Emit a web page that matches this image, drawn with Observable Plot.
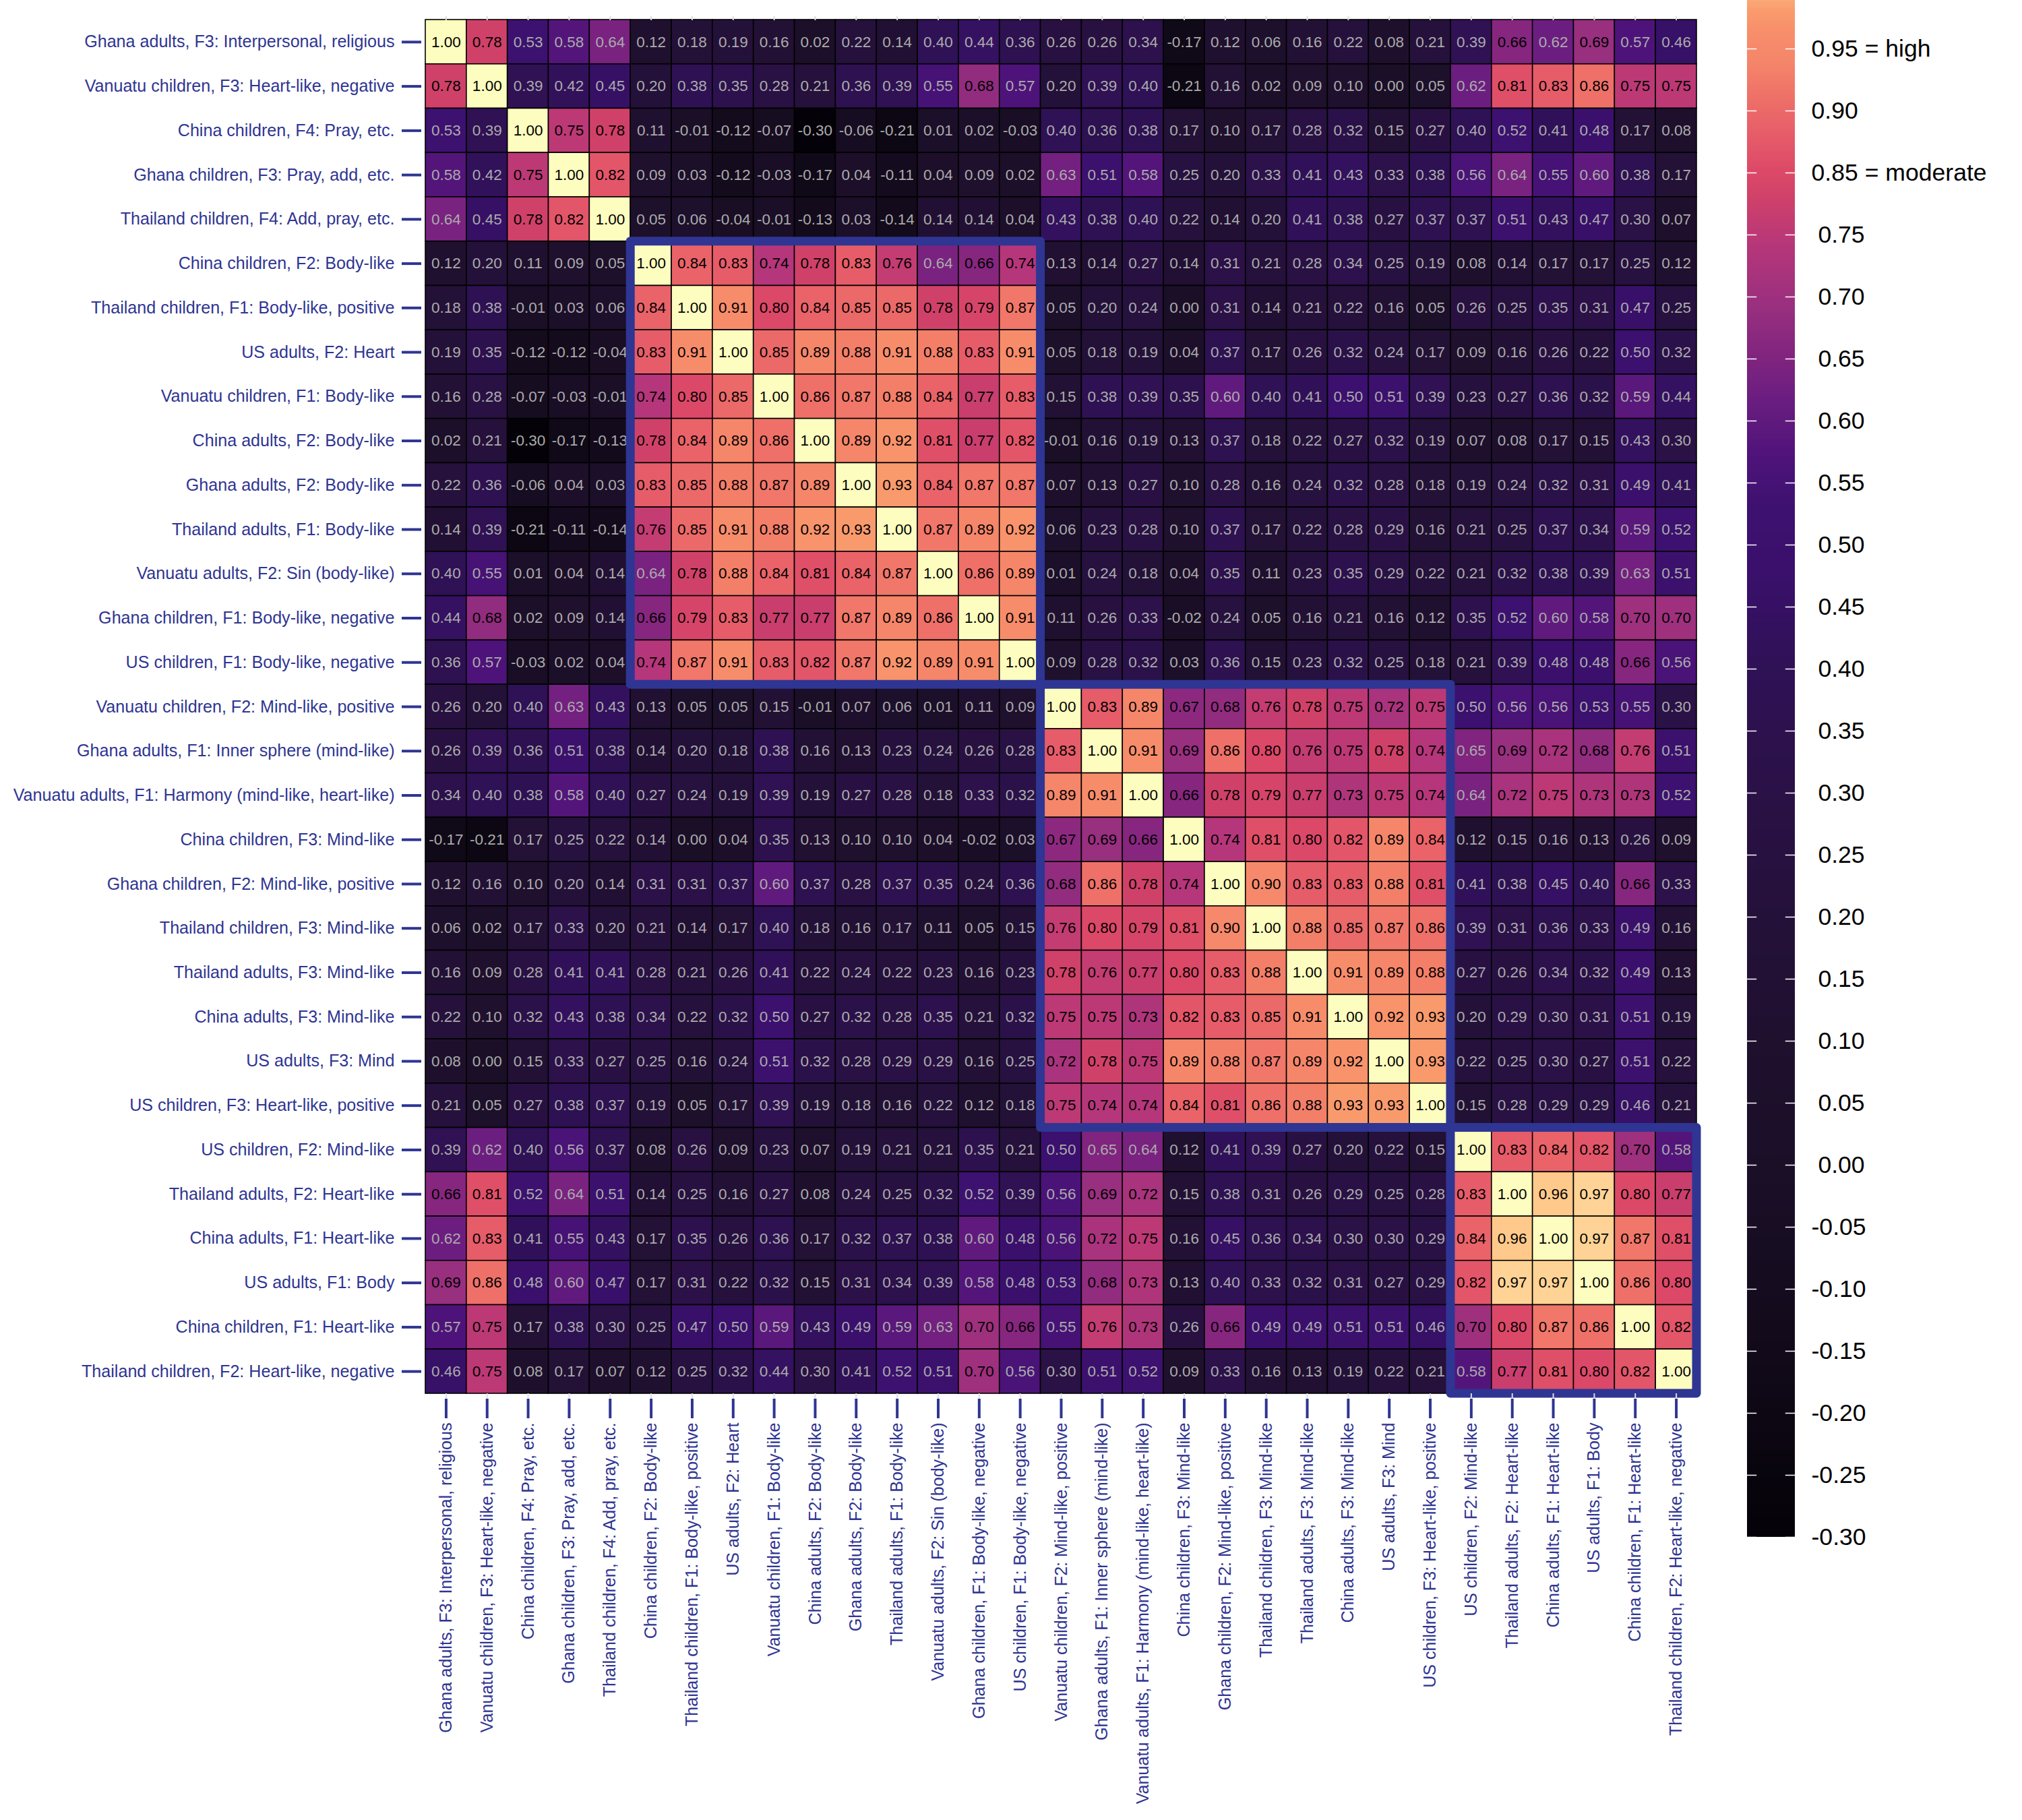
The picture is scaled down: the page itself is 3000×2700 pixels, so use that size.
<!DOCTYPE html>
<html><head><meta charset="utf-8">
<script src="https://cdn.jsdelivr.net/npm/d3@7"></script>
<script src="https://cdn.jsdelivr.net/npm/@observablehq/plot@0.6"></script>
<style>
html,body{margin:0;padding:0;background:#fff;overflow:hidden;}
#wrap{position:relative;width:3000px;height:2700px;overflow:hidden;background:#fff;}
#main{position:absolute;left:0;top:0;}
#legend{position:absolute;left:2560px;top:0;}
</style></head><body><div id="wrap"><div id="main"></div><div id="legend"></div></div>
<script>
const labels = [
  "Ghana adults, F3: Interpersonal, religious",
  "Vanuatu children, F3: Heart-like, negative",
  "China children, F4: Pray, etc.",
  "Ghana children, F3: Pray, add, etc.",
  "Thailand children, F4: Add, pray, etc.",
  "China children, F2: Body-like",
  "Thailand children, F1: Body-like, positive",
  "US adults, F2: Heart",
  "Vanuatu children, F1: Body-like",
  "China adults, F2: Body-like",
  "Ghana adults, F2: Body-like",
  "Thailand adults, F1: Body-like",
  "Vanuatu adults, F2: Sin (body-like)",
  "Ghana children, F1: Body-like, negative",
  "US children, F1: Body-like, negative",
  "Vanuatu children, F2: Mind-like, positive",
  "Ghana adults, F1: Inner sphere (mind-like)",
  "Vanuatu adults, F1: Harmony (mind-like, heart-like)",
  "China children, F3: Mind-like",
  "Ghana children, F2: Mind-like, positive",
  "Thailand children, F3: Mind-like",
  "Thailand adults, F3: Mind-like",
  "China adults, F3: Mind-like",
  "US adults, F3: Mind",
  "US children, F3: Heart-like, positive",
  "US children, F2: Mind-like",
  "Thailand adults, F2: Heart-like",
  "China adults, F1: Heart-like",
  "US adults, F1: Body",
  "China children, F1: Heart-like",
  "Thailand children, F2: Heart-like, negative"
];

const corrRows = [
  [1.00,0.78,0.53,0.58,0.64,0.12,0.18,0.19,0.16,0.02,0.22,0.14,0.40,0.44,0.36,0.26,0.26,0.34,-0.17,0.12,0.06,0.16,0.22,0.08,0.21,0.39,0.66,0.62,0.69,0.57,0.46],
  [0.78,1.00,0.39,0.42,0.45,0.20,0.38,0.35,0.28,0.21,0.36,0.39,0.55,0.68,0.57,0.20,0.39,0.40,-0.21,0.16,0.02,0.09,0.10,0.00,0.05,0.62,0.81,0.83,0.86,0.75,0.75],
  [0.53,0.39,1.00,0.75,0.78,0.11,-0.01,-0.12,-0.07,-0.30,-0.06,-0.21,0.01,0.02,-0.03,0.40,0.36,0.38,0.17,0.10,0.17,0.28,0.32,0.15,0.27,0.40,0.52,0.41,0.48,0.17,0.08],
  [0.58,0.42,0.75,1.00,0.82,0.09,0.03,-0.12,-0.03,-0.17,0.04,-0.11,0.04,0.09,0.02,0.63,0.51,0.58,0.25,0.20,0.33,0.41,0.43,0.33,0.38,0.56,0.64,0.55,0.60,0.38,0.17],
  [0.64,0.45,0.78,0.82,1.00,0.05,0.06,-0.04,-0.01,-0.13,0.03,-0.14,0.14,0.14,0.04,0.43,0.38,0.40,0.22,0.14,0.20,0.41,0.38,0.27,0.37,0.37,0.51,0.43,0.47,0.30,0.07],
  [0.12,0.20,0.11,0.09,0.05,1.00,0.84,0.83,0.74,0.78,0.83,0.76,0.64,0.66,0.74,0.13,0.14,0.27,0.14,0.31,0.21,0.28,0.34,0.25,0.19,0.08,0.14,0.17,0.17,0.25,0.12],
  [0.18,0.38,-0.01,0.03,0.06,0.84,1.00,0.91,0.80,0.84,0.85,0.85,0.78,0.79,0.87,0.05,0.20,0.24,0.00,0.31,0.14,0.21,0.22,0.16,0.05,0.26,0.25,0.35,0.31,0.47,0.25],
  [0.19,0.35,-0.12,-0.12,-0.04,0.83,0.91,1.00,0.85,0.89,0.88,0.91,0.88,0.83,0.91,0.05,0.18,0.19,0.04,0.37,0.17,0.26,0.32,0.24,0.17,0.09,0.16,0.26,0.22,0.50,0.32],
  [0.16,0.28,-0.07,-0.03,-0.01,0.74,0.80,0.85,1.00,0.86,0.87,0.88,0.84,0.77,0.83,0.15,0.38,0.39,0.35,0.60,0.40,0.41,0.50,0.51,0.39,0.23,0.27,0.36,0.32,0.59,0.44],
  [0.02,0.21,-0.30,-0.17,-0.13,0.78,0.84,0.89,0.86,1.00,0.89,0.92,0.81,0.77,0.82,-0.01,0.16,0.19,0.13,0.37,0.18,0.22,0.27,0.32,0.19,0.07,0.08,0.17,0.15,0.43,0.30],
  [0.22,0.36,-0.06,0.04,0.03,0.83,0.85,0.88,0.87,0.89,1.00,0.93,0.84,0.87,0.87,0.07,0.13,0.27,0.10,0.28,0.16,0.24,0.32,0.28,0.18,0.19,0.24,0.32,0.31,0.49,0.41],
  [0.14,0.39,-0.21,-0.11,-0.14,0.76,0.85,0.91,0.88,0.92,0.93,1.00,0.87,0.89,0.92,0.06,0.23,0.28,0.10,0.37,0.17,0.22,0.28,0.29,0.16,0.21,0.25,0.37,0.34,0.59,0.52],
  [0.40,0.55,0.01,0.04,0.14,0.64,0.78,0.88,0.84,0.81,0.84,0.87,1.00,0.86,0.89,0.01,0.24,0.18,0.04,0.35,0.11,0.23,0.35,0.29,0.22,0.21,0.32,0.38,0.39,0.63,0.51],
  [0.44,0.68,0.02,0.09,0.14,0.66,0.79,0.83,0.77,0.77,0.87,0.89,0.86,1.00,0.91,0.11,0.26,0.33,-0.02,0.24,0.05,0.16,0.21,0.16,0.12,0.35,0.52,0.60,0.58,0.70,0.70],
  [0.36,0.57,-0.03,0.02,0.04,0.74,0.87,0.91,0.83,0.82,0.87,0.92,0.89,0.91,1.00,0.09,0.28,0.32,0.03,0.36,0.15,0.23,0.32,0.25,0.18,0.21,0.39,0.48,0.48,0.66,0.56],
  [0.26,0.20,0.40,0.63,0.43,0.13,0.05,0.05,0.15,-0.01,0.07,0.06,0.01,0.11,0.09,1.00,0.83,0.89,0.67,0.68,0.76,0.78,0.75,0.72,0.75,0.50,0.56,0.56,0.53,0.55,0.30],
  [0.26,0.39,0.36,0.51,0.38,0.14,0.20,0.18,0.38,0.16,0.13,0.23,0.24,0.26,0.28,0.83,1.00,0.91,0.69,0.86,0.80,0.76,0.75,0.78,0.74,0.65,0.69,0.72,0.68,0.76,0.51],
  [0.34,0.40,0.38,0.58,0.40,0.27,0.24,0.19,0.39,0.19,0.27,0.28,0.18,0.33,0.32,0.89,0.91,1.00,0.66,0.78,0.79,0.77,0.73,0.75,0.74,0.64,0.72,0.75,0.73,0.73,0.52],
  [-0.17,-0.21,0.17,0.25,0.22,0.14,0.00,0.04,0.35,0.13,0.10,0.10,0.04,-0.02,0.03,0.67,0.69,0.66,1.00,0.74,0.81,0.80,0.82,0.89,0.84,0.12,0.15,0.16,0.13,0.26,0.09],
  [0.12,0.16,0.10,0.20,0.14,0.31,0.31,0.37,0.60,0.37,0.28,0.37,0.35,0.24,0.36,0.68,0.86,0.78,0.74,1.00,0.90,0.83,0.83,0.88,0.81,0.41,0.38,0.45,0.40,0.66,0.33],
  [0.06,0.02,0.17,0.33,0.20,0.21,0.14,0.17,0.40,0.18,0.16,0.17,0.11,0.05,0.15,0.76,0.80,0.79,0.81,0.90,1.00,0.88,0.85,0.87,0.86,0.39,0.31,0.36,0.33,0.49,0.16],
  [0.16,0.09,0.28,0.41,0.41,0.28,0.21,0.26,0.41,0.22,0.24,0.22,0.23,0.16,0.23,0.78,0.76,0.77,0.80,0.83,0.88,1.00,0.91,0.89,0.88,0.27,0.26,0.34,0.32,0.49,0.13],
  [0.22,0.10,0.32,0.43,0.38,0.34,0.22,0.32,0.50,0.27,0.32,0.28,0.35,0.21,0.32,0.75,0.75,0.73,0.82,0.83,0.85,0.91,1.00,0.92,0.93,0.20,0.29,0.30,0.31,0.51,0.19],
  [0.08,0.00,0.15,0.33,0.27,0.25,0.16,0.24,0.51,0.32,0.28,0.29,0.29,0.16,0.25,0.72,0.78,0.75,0.89,0.88,0.87,0.89,0.92,1.00,0.93,0.22,0.25,0.30,0.27,0.51,0.22],
  [0.21,0.05,0.27,0.38,0.37,0.19,0.05,0.17,0.39,0.19,0.18,0.16,0.22,0.12,0.18,0.75,0.74,0.74,0.84,0.81,0.86,0.88,0.93,0.93,1.00,0.15,0.28,0.29,0.29,0.46,0.21],
  [0.39,0.62,0.40,0.56,0.37,0.08,0.26,0.09,0.23,0.07,0.19,0.21,0.21,0.35,0.21,0.50,0.65,0.64,0.12,0.41,0.39,0.27,0.20,0.22,0.15,1.00,0.83,0.84,0.82,0.70,0.58],
  [0.66,0.81,0.52,0.64,0.51,0.14,0.25,0.16,0.27,0.08,0.24,0.25,0.32,0.52,0.39,0.56,0.69,0.72,0.15,0.38,0.31,0.26,0.29,0.25,0.28,0.83,1.00,0.96,0.97,0.80,0.77],
  [0.62,0.83,0.41,0.55,0.43,0.17,0.35,0.26,0.36,0.17,0.32,0.37,0.38,0.60,0.48,0.56,0.72,0.75,0.16,0.45,0.36,0.34,0.30,0.30,0.29,0.84,0.96,1.00,0.97,0.87,0.81],
  [0.69,0.86,0.48,0.60,0.47,0.17,0.31,0.22,0.32,0.15,0.31,0.34,0.39,0.58,0.48,0.53,0.68,0.73,0.13,0.40,0.33,0.32,0.31,0.27,0.29,0.82,0.97,0.97,1.00,0.86,0.80],
  [0.57,0.75,0.17,0.38,0.30,0.25,0.47,0.50,0.59,0.43,0.49,0.59,0.63,0.70,0.66,0.55,0.76,0.73,0.26,0.66,0.49,0.49,0.51,0.51,0.46,0.70,0.80,0.87,0.86,1.00,0.82],
  [0.46,0.75,0.08,0.17,0.07,0.12,0.25,0.32,0.44,0.30,0.41,0.52,0.51,0.70,0.56,0.30,0.51,0.52,0.09,0.33,0.16,0.13,0.19,0.22,0.21,0.58,0.77,0.81,0.80,0.82,1.00]
];

// clusters outlined in the reference: first and last member of each
const boxGroups = [
  ["China children, F2: Body-like", "US children, F1: Body-like, negative"],
  ["Vanuatu children, F2: Mind-like, positive", "US children, F3: Heart-like, positive"],
  ["US children, F2: Mind-like", "Thailand children, F2: Heart-like, negative"]
];

// colour ramp (magma-like, stretched at the top)
const colorStops  = [-0.30, -0.15, 0.00, 0.10, 0.20, 0.30, 0.40, 0.48, 0.53, 0.57, 0.62, 0.66, 0.69, 0.74, 0.78, 0.80, 0.83, 0.86, 0.89, 0.91, 0.93, 0.96, 0.97, 1.00];
const colorValues = ["#040208","#120a1a","#1b0f28","#1f102e","#24113a","#2a1146","#2f1156","#3a106c","#3d1170","#4e137a","#6c1e80","#86267f","#982f7f","#b5367a","#d04169","#dc4868","#e65c69","#ee7068","#f5866a","#f78c6b","#f99a6d","#fec98a","#fed395","#fcfdbf"];

const legendTicks = [-0.30,-0.25,-0.20,-0.15,-0.10,-0.05,0.00,0.05,0.10,0.15,0.20,0.25,0.30,0.35,0.40,0.45,0.50,0.55,0.60,0.65,0.70,0.75,0.80,0.85,0.90];
const legendTickLabels = ["-0.30","-0.25","-0.20","-0.15","-0.10","-0.05","\u00a00.00","\u00a00.05","\u00a00.10","\u00a00.15","\u00a00.20","\u00a00.25","\u00a00.30","\u00a00.35","\u00a00.40","\u00a00.45","\u00a00.50","\u00a00.55","\u00a00.60","\u00a00.65","\u00a00.70","\u00a00.75","0.85 = moderate","0.90","0.95 = high"];

const n = labels.length;
const cells = [];
corrRows.forEach((row, i) => row.forEach((v, j) => cells.push({row: i, col: j, v})));
const boxes = boxGroups.map(([a, b]) => ({from: labels.indexOf(a), to: labels.indexOf(b) + 1}));
const navy = "#2f3592";
const font = "'Liberation Sans', Arial, Helvetica, sans-serif";
const colorScale = {type: "linear", domain: colorStops, range: colorValues, interpolate: "rgb"};
const centers = d3.range(n).map(i => i + 0.5);
const fmt = c => labels[Math.floor(c)];

const main = Plot.plot({
  width: 3000, height: 2700,
  marginLeft: 631, marginRight: 483, marginTop: 29, marginBottom: 633,
  x: {domain: [0, n]},
  y: {domain: [n, 0]},
  color: colorScale,
  style: {fontFamily: font, background: "transparent"},
  marks: [
    Plot.rect(cells, {x1: "col", x2: d => d.col + 1, y1: "row", y2: d => d.row + 1, fill: "v", stroke: "black", strokeWidth: 1.6}),
    Plot.text(cells, {filter: d => d.v > 0.65, x: d => d.col + 0.5, y: d => d.row + 0.5, text: d => d.v.toFixed(2), fill: "black", fontSize: 22.5}),
    Plot.text(cells, {filter: d => d.v <= 0.65, x: d => d.col + 0.5, y: d => d.row + 0.5, text: d => d.v.toFixed(2), fill: "#ababab", fontSize: 22.5}),
    Plot.rect(boxes, {x1: "from", x2: "to", y1: "from", y2: "to", fill: "none", stroke: navy, strokeWidth: 13, strokeLinejoin: "round"}),
    Plot.axisX(centers, {anchor: "top", tickSize: 6, stroke: "#dedede", strokeWidth: 2, tickFormat: () => ""}),
    Plot.axisX(centers, {anchor: "bottom", tickSize: 8, stroke: "#dedede", strokeWidth: 2, tickFormat: () => ""}),
    Plot.axisX(centers, {anchor: "bottom", tickSize: 29, dy: 8, tickPadding: 6, tickRotate: -90, tickFormat: fmt, stroke: navy, strokeWidth: 4, fill: navy, fontSize: 25.1}),
    Plot.axisY(centers, {anchor: "left", tickSize: 29, dx: -6, tickPadding: 11, tickFormat: fmt, stroke: navy, strokeWidth: 4, fill: navy, fontSize: 25.1})
  ]
});
document.getElementById("main").appendChild(main);

const legendBins = d3.range(-0.30, 1.0, 0.0025);
const labelOf = d => legendTickLabels[legendTicks.findIndex(t => Math.abs(t - d) < 1e-9)];
const legend = Plot.plot({
  width: 440, height: 2700,
  marginLeft: 32, marginRight: 337, marginTop: 0, marginBottom: 0,
  x: {domain: [0, 1], axis: null},
  y: {domain: [-0.30, 1.0], range: [2280, -112]},
  color: colorScale,
  style: {fontFamily: font, background: "transparent"},
  marks: [
    Plot.rect(legendBins, {x1: 0, x2: 1, y1: d => d, y2: d => d + 0.0027, fill: d => d + 0.00125, shapeRendering: "crispEdges"}),
    Plot.ruleY(legendTicks, {x1: 0, x2: 0.2, stroke: "white", strokeWidth: 1.5}),
    Plot.ruleY(legendTicks, {x1: 0.8, x2: 1, stroke: "white", strokeWidth: 1.5}),
    Plot.axisY(legendTicks, {anchor: "right", tickSize: 0, tickPadding: 24, tickFormat: labelOf, fontSize: 35.6, fill: "black", textAnchor: "start"})
  ]
});
document.getElementById("legend").appendChild(legend);
</script></body></html>
